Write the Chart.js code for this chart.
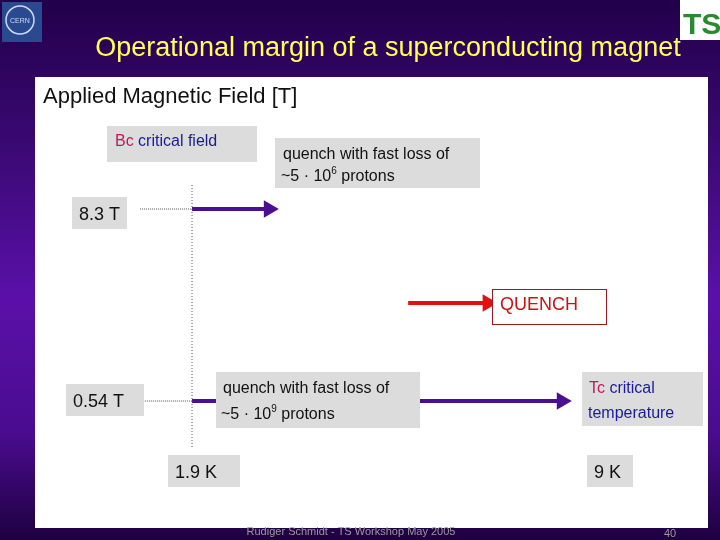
<!DOCTYPE html>
<html><head><meta charset="utf-8">
<script src="https://cdn.jsdelivr.net/npm/chart.js@4"></script>
<style>
html,body{margin:0;padding:0;width:720px;height:540px;overflow:hidden;
background:linear-gradient(to bottom,#22004a 0%,#3d0a78 30%,#5a10a8 55%,#4a0c90 80%,#1e0040 100%);}
#c{position:absolute;left:0;top:0;}
</style></head><body>
<canvas id="c" width="720" height="540"></canvas>
<script>
// Temperature [K] and field [T] values
const criticalField = 8.3, operatingField = 0.54;
const operatingTemp = 1.9, criticalTemp = 9;
const upperArrowX = [operatingTemp, 3.35];
const lowerArrowX = [operatingTemp, 8.88];
const quenchArrowX = [5.98, 7.48], quenchArrowY = 4.5;
const dotUpperX = [0.92, operatingTemp], dotLowerX = [1.01, operatingTemp];
const vertDotY = [9.27, -1.4];

const purple = '#4a1090', red = '#e41010';
function seg(xs, y, col, w, dash, arrow){
  return {data: xs.map(x=>({x, y})), borderColor: col, backgroundColor: col, borderWidth: w,
    borderDash: dash||[], pointRadius: arrow?[0,6]:0, pointStyle:'triangle', pointRotation:90, showLine:true};
}
const datasets = [
  seg(dotUpperX, criticalField, '#555', 1, [1,1]),
  seg(dotLowerX, operatingField, '#555', 1, [1,1]),
  {data: vertDotY.map(y=>({x:operatingTemp,y})), borderColor:'#555', borderWidth:1, borderDash:[1,2], pointRadius:0, showLine:true},
  seg(upperArrowX, criticalField, purple, 4, null, true),
  seg(lowerArrowX, operatingField, purple, 4, null, true),
  seg(quenchArrowX, quenchArrowY, red, 4, null, true)
];

function box(ctx,x,y,w,h,fill,stroke){ctx.fillStyle=fill;ctx.fillRect(x,y,w,h);if(stroke){ctx.strokeStyle=stroke;ctx.lineWidth=1;ctx.strokeRect(x+.5,y+.5,w-1,h-1);}}
function txt(ctx,parts,x,y,size){
  for(const [t,c,sz,dy] of parts){ctx.font=(sz||size)+'px "Liberation Sans", Arial, sans-serif';ctx.fillStyle=c;ctx.fillText(t,x,y+(dy||0));x+=ctx.measureText(t).width;}}

const bg = {id:'bg', beforeDraw(chart){const ctx=chart.ctx;ctx.save();
  ctx.fillStyle='#fff';ctx.fillRect(35,77,673,451);
  ctx.fillStyle='#2a4a90';ctx.fillRect(2,2,40,40);ctx.strokeStyle='#cfd8ff';ctx.lineWidth=1.5;
  ctx.beginPath();ctx.arc(20,20,14,0,Math.PI*2);ctx.stroke();
  ctx.fillStyle='#cfd8ff';ctx.font='7px "Liberation Sans"';ctx.fillText('CERN',10,23);
  ctx.fillStyle='#fff';ctx.fillRect(680,0,40,40);ctx.fillStyle='#2a8a30';ctx.font='bold 30px "Liberation Sans"';ctx.fillText('TS',683,34);
  ctx.fillStyle='#ffff55';ctx.font='27px "Liberation Sans", Arial';ctx.textAlign='center';
  ctx.fillText('Operational margin of a superconducting magnet',388,56);
  ctx.fillStyle='#9a9a9a';ctx.font='11px "Liberation Sans"';ctx.fillText('Rudiger Schmidt - TS Workshop May 2005',351,535);
  ctx.fillText('40',670,537);
  ctx.textAlign='left';
  txt(ctx,[['Applied Magnetic Field [T]','#111']],43,103,22);
  ctx.restore();},
 afterDatasetsDraw(chart){const ctx=chart.ctx;ctx.save();ctx.textAlign='left';
  box(ctx,107,126,150,36,'#dcdcdc');
  txt(ctx,[['Bc ','#c0185a'],['critical field','#1a1a9a']],115,146,16);
  box(ctx,275,138,205,50,'#dcdcdc');
  txt(ctx,[['quench with fast loss of','#111']],283,159,16);
  txt(ctx,[['~5 · 10','#111'],['6','#111',10,-7],[' protons','#111']],281,181,16);
  box(ctx,72,197,55,32,'#dcdcdc');txt(ctx,[['8.3 T','#111']],79,220,18);
  box(ctx,492,289,115,36,'#fff','#a01818');txt(ctx,[['QUENCH','#d01010']],500,310,18);
  box(ctx,66,384,78,32,'#dcdcdc');txt(ctx,[['0.54 T','#111']],73,407,18);
  box(ctx,216,372,204,56,'#dcdcdc');
  txt(ctx,[['quench with fast loss of','#111']],223,393,16);
  txt(ctx,[['~5 · 10','#111'],['9','#111',10,-7],[' protons','#111']],221,419,16);
  box(ctx,582,372,121,54,'#dcdcdc');
  txt(ctx,[['Tc ','#c0185a'],['critical','#1a1a9a']],589,393,16);
  txt(ctx,[['temperature','#1a1a9a']],588,418,16);
  box(ctx,168,455,72,32,'#dcdcdc');txt(ctx,[['1.9 K','#111']],175,478,18);
  box(ctx,587,455,46,32,'#dcdcdc');txt(ctx,[['9 K','#111']],594,478,18);
  ctx.restore();}};

new Chart(document.getElementById('c'),{type:'scatter',data:{datasets},
  options:{responsive:false,animation:false,events:[],
    layout:{padding:{left:35,right:12,top:77,bottom:12}},
    plugins:{legend:{display:false},tooltip:{enabled:false}},
    scales:{x:{type:'linear',min:-1.064,max:11.64,display:false},
            y:{type:'linear',min:-4.593,max:13.635,display:false}}},
  plugins:[bg]});
</script></body></html>
